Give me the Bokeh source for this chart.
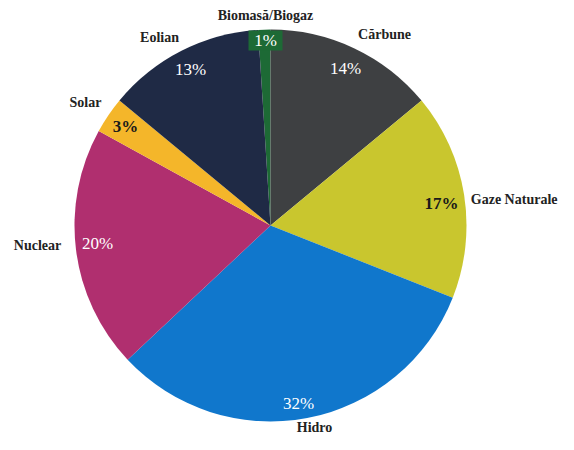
import math
from bokeh.plotting import figure
from bokeh.models import Range1d, ColumnDataSource
from bokeh.core.properties import value
from bokeh.embed import file_html
from bokeh.resources import INLINE

# Data (clockwise from 12 o'clock)
categories = ["Biomasă/Biogaz", "Cărbune", "Gaze Naturale", "Hidro", "Nuclear", "Solar", "Eolian"]
values = [1, 14, 17, 32, 20, 3, 13]
colors = ["#1d6a35", "#3e4042", "#c9c62e", "#1077cc", "#b02f6f", "#f4b62a", "#1f2a45"]

W, H = 558, 434
DY = -7  # vertical shift so everything fits
def X(px):
    return px
def Y(py):
    return H - (py + DY)

p = figure(width=W, height=H, output_backend="svg", toolbar_location=None,
           x_range=Range1d(0, W), y_range=Range1d(0, H), min_border=0)
p.axis.visible = False
p.grid.visible = False
p.outline_line_color = None
p.background_fill_color = "white"

cx, cy, r = 270, 232, 196
total = sum(values)
starts, ends = [], []
cum = -values[0]
for v in values:
    a0 = math.pi / 2 - 2 * math.pi * cum / total
    cum += v
    a1 = math.pi / 2 - 2 * math.pi * cum / total
    starts.append(a0)
    ends.append(a1)

src = ColumnDataSource(dict(start=starts, end=ends, color=colors, cat=categories))
p.wedge(x=X(cx), y=Y(cy), radius=r, start_angle="start", end_angle="end",
        direction="clock", fill_color="color", line_color=None, source=src)

font = value("serif")

# category labels (image coords)
cat_pos = {
    "Biomasă/Biogaz": (265, 22, "center"),
    "Cărbune": (384, 41, "center"),
    "Gaze Naturale": (557, 206, "right"),
    "Hidro": (314, 434, "center"),
    "Nuclear": (37, 252, "center"),
    "Solar": (85, 109, "center"),
    "Eolian": (159, 44, "center"),
}
for c in categories:
    px, py, al = cat_pos[c]
    p.text(x=[X(px)], y=[Y(py)], text=[c], text_font=font, text_font_size="14px",
           text_font_style="bold", text_color="#222222", text_align=al,
           text_baseline="middle")

# percentage labels
pct_pos = [(265, 47), (345, 75), (441, 210), (298, 410), (97, 250), (125, 133), (190, 76)]
pct_col = ["white", "white", "#1a1a1a", "white", "white", "#1a1a1a", "white"]
pct_style = ["normal", "normal", "bold", "normal", "normal", "bold", "normal"]
pct_txt = [f"{v}%" for v in values]

p.rect(x=X(265), y=Y(47), width=34, height=20, fill_color="#1d6a35", line_color=None)

for (px, py), t, c, s in zip(pct_pos, pct_txt, pct_col, pct_style):
    p.text(x=[X(px)], y=[Y(py)], text=[t], text_font=font, text_font_size="17px",
           text_font_style=s, text_color=c, text_align="center", text_baseline="middle")

open("out.html", "w").write(file_html(p, INLINE))
